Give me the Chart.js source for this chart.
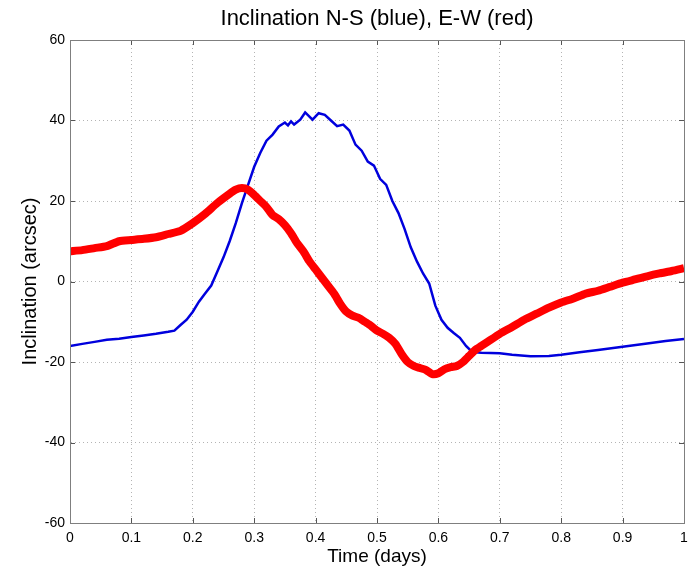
<!DOCTYPE html>
<html>
<head>
<meta charset="utf-8">
<script src="https://cdn.jsdelivr.net/npm/chart.js@4.4.1/dist/chart.umd.min.js"></script>
<style>
  html, body { margin: 0; padding: 0; background: #fff; }
  #wrap { width: 689px; height: 569px; }
</style>
</head>
<body>
<div id="wrap"><canvas id="chart"></canvas></div>
<script>
// N-S inclination (blue)
const nsTime = [0, 0.02, 0.04, 0.06, 0.08, 0.10, 0.12, 0.14, 0.16, 0.17, 0.18, 0.19, 0.20, 0.21,
  0.22, 0.23, 0.24, 0.25, 0.26, 0.27, 0.28, 0.29, 0.30, 0.31, 0.32, 0.33, 0.34, 0.35, 0.355,
  0.36, 0.365, 0.375, 0.383, 0.395, 0.405, 0.415, 0.425, 0.435, 0.445, 0.455, 0.465, 0.475,
  0.485, 0.495, 0.505, 0.515, 0.525, 0.535, 0.545, 0.555, 0.565, 0.575, 0.585, 0.595, 0.605,
  0.615, 0.625, 0.635, 0.645, 0.655, 0.67, 0.70, 0.72, 0.75, 0.78, 0.80, 0.83, 0.86, 0.90,
  0.94, 0.97, 1.00];
const nsValues = [-16.0, -15.5, -15.0, -14.5, -14.2, -13.8, -13.4, -13.0, -12.5, -12.2, -10.8,
  -9.5, -7.5, -5.0, -3.0, -1.0, 2.5, 6.0, 10.0, 14.5, 19.5, 24.0, 28.5, 32.0, 35.0, 36.5, 38.5,
  39.5, 38.8, 39.8, 39.0, 40.2, 42.0, 40.2, 41.8, 41.4, 40.0, 38.6, 39.0, 37.5, 34.0, 32.5, 29.8,
  28.8, 25.5, 24.0, 20.0, 17.0, 13.0, 8.5, 5.0, 2.0, -0.5, -6.0, -9.5, -11.5, -12.8, -14.0,
  -16.0, -17.5, -17.7, -17.8, -18.2, -18.6, -18.5, -18.2, -17.6, -17.0, -16.2, -15.4, -14.8,
  -14.3];

// E-W inclination (red)
const ewTime = [0, 0.02, 0.04, 0.06, 0.08, 0.10, 0.12, 0.14, 0.16, 0.18, 0.20, 0.22, 0.24, 0.26,
  0.27, 0.28, 0.29, 0.30, 0.31, 0.32, 0.33, 0.34, 0.35, 0.36, 0.37, 0.38, 0.39, 0.40, 0.41, 0.42,
  0.43, 0.44, 0.45, 0.46, 0.47, 0.48, 0.49, 0.50, 0.51, 0.52, 0.53, 0.54, 0.55, 0.56, 0.57, 0.58,
  0.59, 0.60, 0.61, 0.62, 0.63, 0.64, 0.65, 0.66, 0.67, 0.68, 0.70, 0.72, 0.74, 0.76, 0.78, 0.80,
  0.82, 0.84, 0.86, 0.88, 0.90, 0.92, 0.94, 0.96, 0.98, 1.00];
const ewValues = [7.5, 7.8, 8.3, 8.8, 10.0, 10.3, 10.6, 11.0, 11.8, 12.6, 14.5, 16.8, 19.5, 21.8,
  22.8, 23.2, 22.8, 21.5, 20.0, 18.5, 16.5, 15.5, 14.0, 12.0, 9.5, 7.5, 5.0, 3.0, 1.0, -1.0, -3.0,
  -5.5, -7.5, -8.5, -9.0, -10.0, -11.0, -12.2, -13.0, -14.0, -15.5, -18.0, -20.0, -21.0, -21.5,
  -22.0, -23.0, -22.8, -21.8, -21.3, -21.0, -20.0, -18.5, -17.0, -16.0, -15.0, -13.0, -11.3,
  -9.5, -8.0, -6.5, -5.2, -4.2, -3.0, -2.3, -1.3, -0.3, 0.5, 1.3, 2.0, 2.6, 3.3];

const xTicks = [0, 0.1, 0.2, 0.3, 0.4, 0.5, 0.6, 0.7, 0.8, 0.9, 1];
const xTickLabels = ['0', '0.1', '0.2', '0.3', '0.4', '0.5', '0.6', '0.7', '0.8', '0.9', '1'];
const yTicks = [-60, -40, -20, 0, 20, 40, 60];

const chartTitle = 'Inclination N-S (blue), E-W (red)';
const fontFamily = "'Liberation Sans', Arial, sans-serif";
const axisColor = '#7f7f7f';

// MATLAB style box: frame, inward tick marks on all sides, title over the plot area
const boxPlugin = {
    id: 'matlabBox',
    afterDraw(chart) {
        const { ctx, chartArea: a, scales } = chart;
        ctx.save();
        ctx.strokeStyle = '#555';
        ctx.lineWidth = 1;
        ctx.beginPath();
        xTicks.forEach(v => {
            const px = Math.round(scales.x.getPixelForValue(v)) + 0.5;
            ctx.moveTo(px, a.bottom); ctx.lineTo(px, a.bottom - 5);
            ctx.moveTo(px, a.top); ctx.lineTo(px, a.top + 5);
        });
        yTicks.forEach(v => {
            const py = Math.round(scales.y.getPixelForValue(v)) + 0.5;
            ctx.moveTo(a.left, py); ctx.lineTo(a.left + 5, py);
            ctx.moveTo(a.right, py); ctx.lineTo(a.right - 5, py);
        });
        ctx.stroke();

        ctx.strokeStyle = axisColor;
        ctx.strokeRect(Math.round(a.left) + 0.5, Math.round(a.top) + 0.5,
            Math.round(a.right - a.left), Math.round(a.bottom - a.top));

        ctx.fillStyle = '#000';
        ctx.font = '22px ' + fontFamily;
        ctx.textAlign = 'center';
        ctx.textBaseline = 'middle';
        ctx.fillText(chartTitle, (a.left + a.right) / 2, 19);
        ctx.restore();
    }
};

const ctx = document.getElementById('chart').getContext('2d');
new Chart(ctx, {
    type: 'line',
    data: {
        datasets: [
            {
                label: 'N-S',
                data: nsTime.map((t, i) => ({ x: t, y: nsValues[i] })),
                borderColor: '#0000dd',
                borderWidth: 2.5,
                pointRadius: 0,
                tension: 0,
                order: 2
            },
            {
                label: 'E-W',
                data: ewTime.map((t, i) => ({ x: t, y: ewValues[i] })),
                borderColor: '#ff0000',
                borderWidth: 8,
                pointRadius: 0,
                tension: 0.2,
                order: 1
            }
        ]
    },
    options: {
        responsive: true,
        maintainAspectRatio: false,
        animation: false,
        layout: { padding: { top: 40, right: 5, left: 0, bottom: 0 } },
        plugins: {
            legend: { display: false },
            tooltip: { enabled: false }
        },
        scales: {
            x: {
                type: 'linear',
                min: 0,
                max: 1,
                afterBuildTicks: (scale) => { scale.ticks = xTicks.map(v => ({ value: v })); },
                afterFit: (scale) => {
                    scale.height = 46;
                    scale.paddingLeft = 0;
                    scale.paddingRight = 0;
                },
                grid: { color: '#b4b4b4', lineWidth: 1, drawTicks: false },
                border: { color: axisColor, dash: [1, 3] },
                ticks: {
                    color: '#000',
                    padding: 7,
                    maxRotation: 0,
                    autoSkip: false,
                    font: { family: fontFamily, size: 14 },
                    callback: (val) => xTickLabels[xTicks.indexOf(val)] ?? ''
                },
                title: {
                    display: true,
                    text: 'Time (days)',
                    color: '#000',
                    font: { family: fontFamily, size: 19, lineHeight: 1.2 },
                    padding: { top: 0, bottom: 1 }
                }
            },
            y: {
                type: 'linear',
                min: -60,
                max: 60,
                afterBuildTicks: (scale) => { scale.ticks = yTicks.map(v => ({ value: v })); },
                afterFit: (scale) => {
                    scale.width = 70;
                    scale.paddingTop = 0;
                    scale.paddingBottom = 0;
                },
                grid: { color: '#b4b4b4', lineWidth: 1, drawTicks: false },
                border: { color: axisColor, dash: [1, 3] },
                ticks: {
                    color: '#000',
                    padding: 5,
                    autoSkip: false,
                    font: { family: fontFamily, size: 14 }
                },
                title: {
                    display: true,
                    text: 'Inclination (arcsec)',
                    color: '#000',
                    font: { family: fontFamily, size: 20, lineHeight: 1.2 },
                    padding: { top: 18, bottom: 0 }
                }
            }
        }
    },
    plugins: [boxPlugin]
});
</script>
</body>
</html>
